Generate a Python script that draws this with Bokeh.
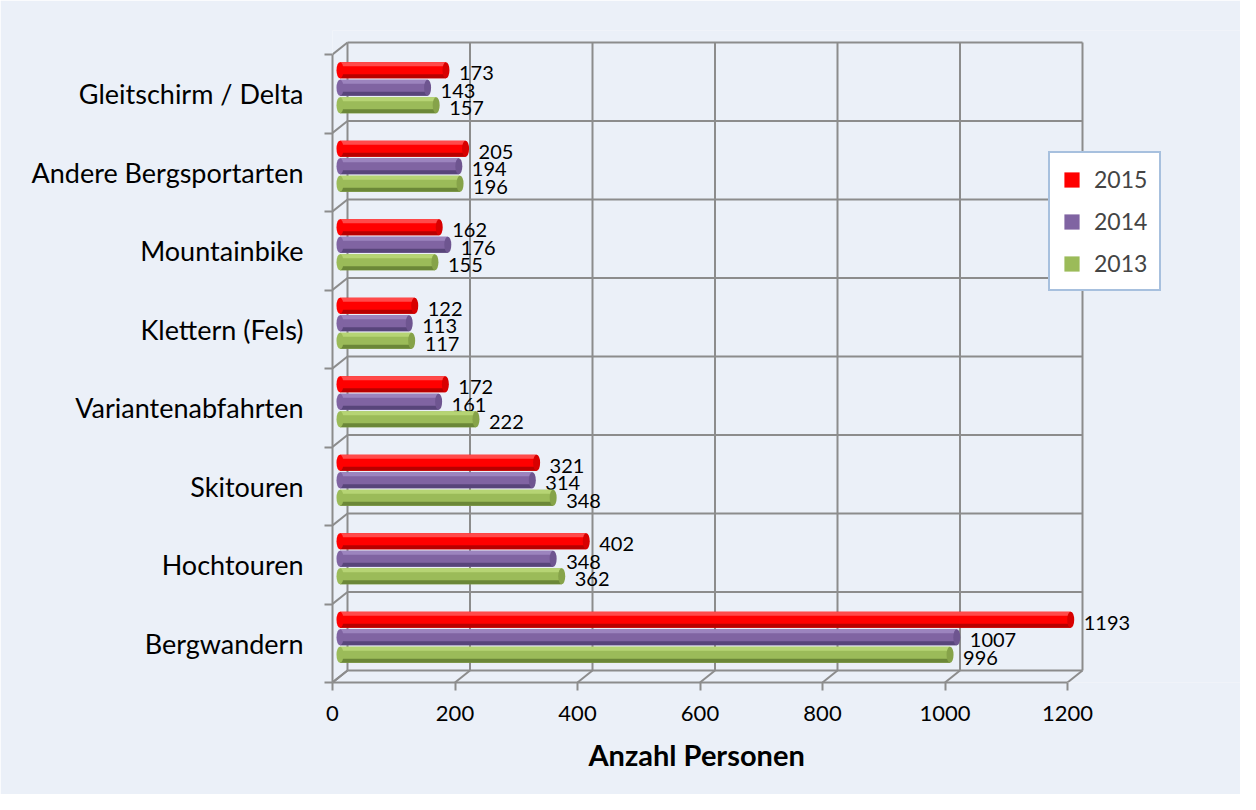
from bokeh.plotting import figure
from bokeh.models import Range1d, FixedTicker, Legend, LegendItem, ColumnDataSource, Title
from bokeh.core.properties import value
from bokeh.embed import file_html
from bokeh.resources import INLINE

# ---------------- data ----------------
categories = ["Gleitschirm / Delta", "Andere Bergsportarten", "Mountainbike",
              "Klettern (Fels)", "Variantenabfahrten", "Skitouren",
              "Hochtouren", "Bergwandern"]
years = ["2015", "2014", "2013"]
values_2015 = [173, 205, 162, 122, 172, 321, 402, 1193]
values_2014 = [143, 194, 176, 113, 161, 314, 348, 1007]
values_2013 = [157, 196, 155, 117, 222, 348, 362, 996]
x_ticks = [0, 200, 400, 600, 800, 1000, 1200]
x_title = "Anzahl Personen"

# ---------------- layout / style ----------------
W, H = 1240, 794
BG = "#EBF0F8"
GRID = "#8C8C8C"
FONT = "Lato"
FL, FR, FT, FB = 332, 1240, 30, 682          # frame edges in figure px
PX_X = 0.6125                                # px per person
PX_Y = 78.5                                  # px per category band
x_end = (FR - FL) / PX_X
n = len(categories)
y_end = (FB - FT) / PX_Y
DX = 15 / PX_X                               # 3-D depth offset (data units)
DY = 12 / PX_Y
x_max = x_ticks[-1]

p = figure(width=W, height=H, output_backend="svg", toolbar_location=None,
           x_range=Range1d(0, x_end), y_range=Range1d(0, y_end),
           min_border_left=FL, min_border_right=W - FR,
           min_border_top=FT, min_border_bottom=H - FB,
           background_fill_color=BG, border_fill_color=BG,
           outline_line_color=None)
p.grid.visible = False

# ---------------- 3-D box (walls) ----------------
seg_x0, seg_y0, seg_x1, seg_y1 = [], [], [], []
for v in x_ticks:
    seg_x0 += [v + DX, v]; seg_y0 += [DY, 0]
    seg_x1 += [v + DX, v + DX]; seg_y1 += [n + DY, DY]
for k in range(n + 1):
    seg_x0 += [DX, 0]; seg_y0 += [k + DY, k]
    seg_x1 += [x_max + DX, DX]; seg_y1 += [k + DY, k + DY]
p.segment(x0=seg_x0, y0=seg_y0, x1=seg_x1, y1=seg_y1,
          line_color=GRID, line_width=2)

# ---------------- bars (cylinders) ----------------
series = [values_2015, values_2014, values_2013]
colors = ["#FF0000", "#8064A2", "#9BBB59"]
tops = ["#FF4A4A", "#9C84BE", "#B6D474"]
shadows = ["#B80000", "#58457A", "#6B8738"]
caps = ["#D80000", "#6E5590", "#86A349"]
slot = 17.5 / PX_Y
bh = 16 / PX_Y
strip = 4 / PX_Y
x0 = DX / 2
legend_items = []
for j, (vals, yr) in enumerate(zip(series, years)):
    ys = [(n - 1 - i) + 0.5 + DY / 2 + (1 - j) * slot for i in range(n)]
    rights = [x0 + v for v in vals]
    src = ColumnDataSource(dict(y=ys, left=[x0] * n, right=rights,
                                ytop=[y + bh / 2 - strip / 2 for y in ys],
                                ybot=[y - bh / 2 + strip / 2 for y in ys],
                                lab=[str(v) for v in vals]))
    r = p.hbar(y="y", left="left", right="right", height=bh, source=src,
               fill_color=colors[j], line_color=None)
    p.hbar(y="ytop", left="left", right="right", height=strip, source=src,
           fill_color=tops[j], line_color=None)
    p.hbar(y="ybot", left="left", right="right", height=strip, source=src,
           fill_color=shadows[j], line_color=None)
    p.ellipse(x="left", y="y", width=7, height=16, width_units="screen",
              height_units="screen", source=src, fill_color=colors[j], line_color=None)
    p.ellipse(x="right", y="y", width=7, height=16, width_units="screen",
              height_units="screen", source=src, fill_color=caps[j], line_color=None)
    p.text(x="right", y="y", text="lab", source=src, x_offset=13, y_offset=3,
           text_baseline="middle", text_align="left", text_font=value(FONT),
           text_font_size="20px", text_color="black")
    legend_items.append(LegendItem(label=yr, renderers=[r]))

# ---------------- axes ----------------
xa = p.xaxis[0]
xa.ticker = FixedTicker(ticks=x_ticks)
xa.bounds = (0, x_max)
xa.axis_line_color = GRID; xa.axis_line_width = 2
xa.major_tick_line_color = GRID; xa.major_tick_line_width = 2
xa.major_tick_out = 8; xa.major_tick_in = 0
xa.minor_tick_line_color = None
xa.major_label_standoff = 15
xa.major_label_text_font = FONT
xa.major_label_text_font_size = "22px"
xa.major_label_text_color = "black"

ya = p.yaxis[0]
centers = [k + 0.5 for k in range(n)]
ya.ticker = FixedTicker(ticks=centers, minor_ticks=list(range(n + 1)))
ya.major_label_overrides = {c: categories[n - 1 - k] for k, c in enumerate(centers)}
ya.bounds = (0, n)
ya.axis_line_color = GRID; ya.axis_line_width = 2
ya.major_tick_line_color = None
ya.major_tick_out = 0; ya.major_tick_in = 0
ya.minor_tick_line_color = GRID; ya.minor_tick_line_width = 2
ya.minor_tick_out = 8; ya.minor_tick_in = 0
ya.major_label_standoff = 21
ya.major_label_text_font = FONT
ya.major_label_text_font_size = "27px"
ya.major_label_text_color = "black"

# axis title, centred under the 0..1200 axis
p.add_layout(Title(text=x_title, align="left", offset=256, standoff=23,
                   text_font=FONT, text_font_size="29px", text_font_style="bold",
                   text_color="black"), "below")

legend = Legend(items=legend_items, location=(716, 391),
                background_fill_color="white", background_fill_alpha=1,
                border_line_color="#4F81BD", border_line_width=2,
                label_text_font=FONT, label_text_font_size="23px",
                glyph_width=19, glyph_height=19, label_standoff=13,
                padding=12, spacing=14, margin=0)
p.add_layout(legend)

open("out.html", "w").write(file_html(p, INLINE))
